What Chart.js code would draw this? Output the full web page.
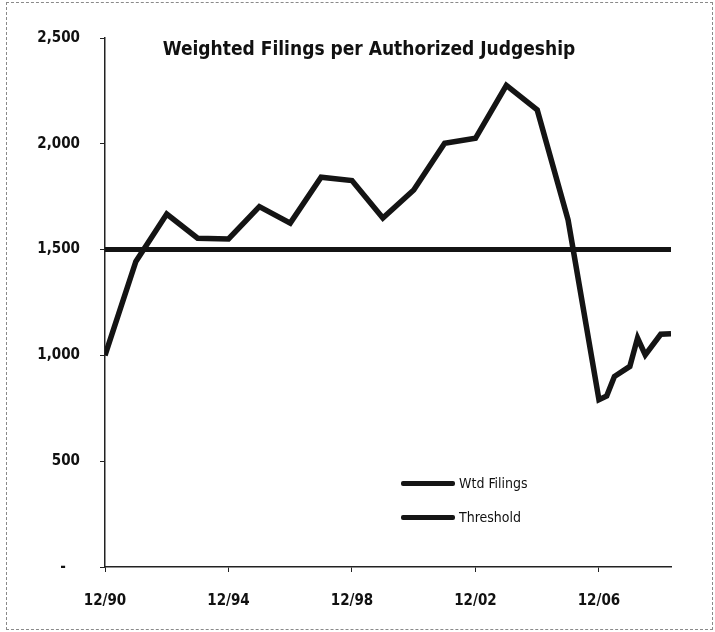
<!DOCTYPE html>
<html lang="en">
<head>
  <meta charset="UTF-8">
  <title>Weighted Filings per Authorized Judgeship</title>
  <script src="https://cdn.jsdelivr.net/npm/chart.js"></script>
  <style>
    html, body { margin: 0; padding: 0; background: #fff; }
    .wrap { position: relative; width: 715px; height: 632px; }
    .frame {
      position: absolute; left: 6px; top: 2px; width: 705px; height: 626px;
      border: 1px dashed #8a8a8a; pointer-events: none;
    }
    .title {
      position: absolute; left: 104px; width: 530px; top: 37px;
      text-align: center; font-family: "DejaVu Sans Condensed", "DejaVu Sans", sans-serif;
      font-size: 19px; font-weight: bold; color: #111;
    }
    .legend { position: absolute; left: 401px; font-family: "DejaVu Sans Condensed", "DejaVu Sans", sans-serif; font-size: 14px; color: #111; }
    .legend span.swatch { display: inline-block; width: 54px; height: 5px; background: #151515; border-radius: 2px; vertical-align: middle; margin-right: 4px; }
    .legend span.txt { vertical-align: middle; }
  </style>
</head>
<body>
<div class="wrap">
  <canvas id="chart" width="715" height="632"></canvas>
  <div class="title">Weighted Filings per Authorized Judgeship</div>
  <div class="legend" id="leg0" style="top:474px"><span class="swatch"></span><span class="txt"></span></div>
  <div class="legend" id="leg1" style="top:508px"><span class="swatch"></span><span class="txt"></span></div>
  <div class="frame"></div>
</div>

<script>
  // periods as MM/YY, yearly through 12/06 then quarterly
  const periods = ['12/90', '12/91', '12/92', '12/93', '12/94', '12/95', '12/96', '12/97', '12/98',
                   '12/99', '12/00', '12/01', '12/02', '12/03', '12/04', '12/05', '12/06',
                   '3/07', '6/07', '12/07', '3/08', '6/08', '12/08', '4/09'];
  const wtdFilings = [1000, 1444, 1668, 1554, 1550, 1703, 1625, 1842, 1826,
                      1649, 1782, 2003, 2026, 2276, 2160, 1640, 791,
                      808, 900, 948, 1082, 1002, 1100, 1102];
  const thresholdLevel = 1500;
  const seriesNames = ['Wtd Filings', 'Threshold'];
  const xTickLabels = ['12/90', '12/94', '12/98', '12/02', '12/06'];
  const yTickValues = [0, 500, 1000, 1500, 2000, 2500];

  // years elapsed since 12/90
  function toPos(p) {
    const [m, yy] = p.split('/').map(Number);
    const year = yy >= 50 ? 1900 + yy : 2000 + yy;
    return (year - 1990) + (m - 12) / 12;
  }

  const filingPts = periods.map((p, i) => ({ x: toPos(p), y: wtdFilings[i] }));
  const thresholdPts = [
    { x: toPos(periods[0]), y: thresholdLevel },
    { x: toPos(periods[periods.length - 1]), y: thresholdLevel }
  ];
  const xTickPos = xTickLabels.map(toPos);

  const tickFont = { family: 'DejaVu Sans Condensed, DejaVu Sans', size: 15, weight: 'bold' };

  new Chart(document.getElementById('chart'), {
    type: 'line',
    data: {
      datasets: [
        { label: seriesNames[0], data: filingPts, borderColor: '#141414', borderWidth: 5.5,
          pointRadius: 0, tension: 0, borderJoinStyle: 'miter', order: 1 },
        { label: seriesNames[1], data: thresholdPts, borderColor: '#141414', borderWidth: 5,
          pointRadius: 0, order: 2 }
      ]
    },
    options: {
      responsive: false,
      animation: false,
      layout: { padding: { left: 0, right: 44, top: 38, bottom: 0 } },
      plugins: { legend: { display: false }, title: { display: false }, tooltip: { enabled: false } },
      scales: {
        x: {
          type: 'linear',
          min: toPos(periods[0]),
          max: toPos(periods[periods.length - 1]),
          afterBuildTicks: s => { s.ticks = xTickPos.map(v => ({ value: v })); },
          afterFit: s => { s.height = 65; },
          grid: { drawOnChartArea: false, drawTicks: true, tickLength: 5, color: '#222' },
          border: { display: true, color: '#222', width: 1.5 },
          ticks: {
            color: '#111', font: tickFont, padding: 20, maxRotation: 0,
            callback: v => xTickLabels[xTickPos.indexOf(v)]
          }
        },
        y: {
          min: 0, max: 2500,
          afterBuildTicks: s => { s.ticks = yTickValues.map(v => ({ value: v })); },
          afterFit: s => { s.width = 105; },
          grid: { drawOnChartArea: false, drawTicks: true, tickLength: 5, color: '#222' },
          border: { display: true, color: '#222', width: 1.5 },
          ticks: {
            color: '#111', font: tickFont, padding: 20,
            callback: v => v === 0 ? '-   ' : v.toLocaleString('en-US')
          }
        }
      }
    }
  });

  seriesNames.forEach((n, i) => {
    document.querySelector('#leg' + i + ' .txt').textContent = n;
  });
</script>
</body>
</html>
